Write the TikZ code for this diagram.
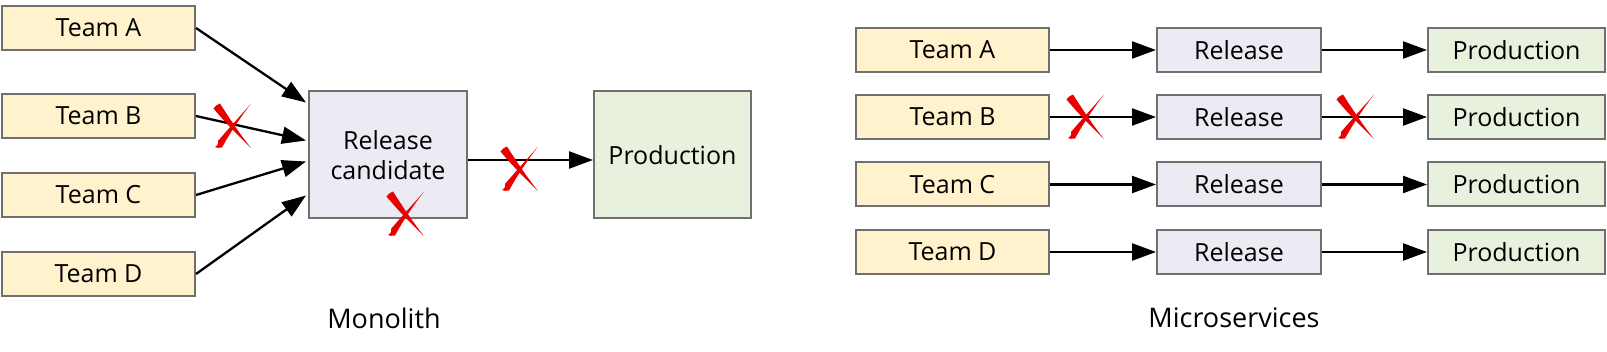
\documentclass[tikz,border=0pt]{standalone}
\usepackage{fontspec}
\setmainfont{Open Sans}
\usetikzlibrary{arrows.meta,calc}
\definecolor{teamfill}{RGB}{255,242,204}
\definecolor{relfill}{RGB}{236,234,242}
\definecolor{prodfill}{RGB}{232,240,222}
\definecolor{boxline}{RGB}{112,112,112}
\definecolor{xred}{RGB}{235,0,0}
\tikzset{
  box/.style={draw=boxline, line width=2pt, inner sep=0pt, align=center,
    font=\fontsize{25}{30}\selectfont},
  teambox/.style={box, fill=teamfill, minimum width=193pt, minimum height=44pt},
  relbox/.style={box, fill=relfill, minimum width=164pt, minimum height=44pt},
  prodbox/.style={box, fill=prodfill, minimum width=177pt, minimum height=44pt},
  conn/.style={line width=2.3pt, -{Triangle[length=24pt,width=17pt]}},
  caption/.style={font=\fontsize{27}{32}\selectfont},
  redx/.pic={
    \fill[xred] (-19.5,17.5) .. controls (-17,20.5) and (-15,22) .. (-13,22.5)
       .. controls (0,2) and (10,-12) .. (18,-22)
       .. controls (9,-13) and (-5,0) .. cycle;
    \fill[xred] (18,22.5) .. controls (10,12) and (-2,-5) .. (-11,-21.5)
       .. controls (-14,-22) and (-16.5,-22) .. (-18,-21)
       .. controls (-15,-19) and (-14,-17) .. (-15,-15)
       .. controls (-4,-2) and (10,13) .. cycle;
  }
}
\begin{document}
\begin{tikzpicture}[x=1pt,y=1pt]
\useasboundingbox (0,0) rectangle (1607,-352);
% Monolith
\node[teambox] (lA) at (98.5,-28) {Team A};
\node[teambox] (lB) at (98.5,-116) {Team B};
\node[teambox] (lC) at (98.5,-195) {Team C};
\node[teambox] (lD) at (98.5,-274) {Team D};
\node[box, fill=relfill, minimum width=158pt, minimum height=127pt] (rc) at (388,-155) {Release\\candidate};
\node[box, fill=prodfill, minimum width=157pt, minimum height=127pt] (pL) at (672.5,-155) {Production};
\coordinate (inA) at ($(rc.north west)+(-2,-12)$);
\coordinate (inB) at ($(rc.north west)+(-2,-50)$);
\coordinate (inC) at ($(rc.north west)+(-2,-71)$);
\coordinate (inD) at ($(rc.north west)+(-2,-105)$);
\draw[conn] (lA.east) -- (inA);
\draw[conn] (lB.east) -- (inB);
\draw[conn] (lC.east) -- (inC);
\draw[conn] (lD.east) -- (inD);
\draw[conn] ([yshift=-5pt]rc.east) -- ([yshift=-5pt]pL.west);
\pic at (233,-126) {redx};
\pic at (406,-214) {redx};
\pic at (520,-169) {redx};
\node[caption] (mono) at (384,-318) {Monolith};
% Microservices
\foreach \n/\y in {A/50,B/117,C/184.5,D/252}{
  \node[teambox] (r\n) at (952.5,-\y) {Team \n};
  \node[relbox] (rel\n) at (1239,-\y) {Release};
  \node[prodbox] (p\n) at (1516.5,-\y) {Production};
  \draw[conn] (r\n.east) -- (rel\n.west);
  \draw[conn] (rel\n.east) -- (p\n.west);
}
\pic at (1086,-117) {redx};
\pic at (1356,-117) {redx};
\node[caption] (micro) at (1234,-318) {Microservices};
\end{tikzpicture}
\end{document}
